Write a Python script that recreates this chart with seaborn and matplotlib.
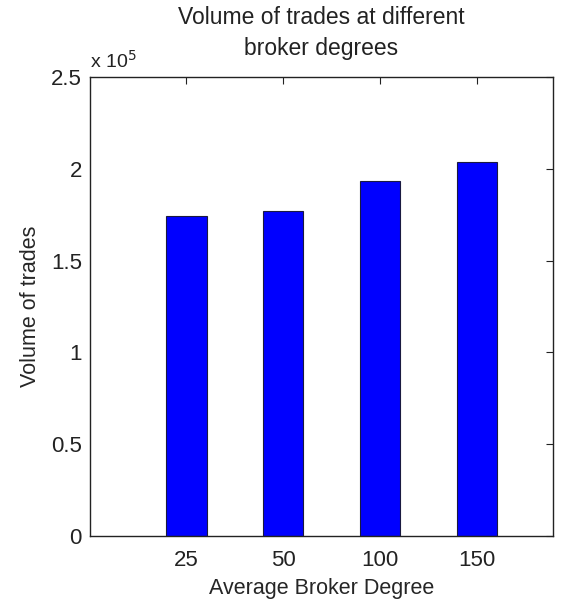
import matplotlib
matplotlib.use('Agg')
import matplotlib.pyplot as plt
import seaborn as sns
import pandas as pd

# values
degrees = ['25', '50', '100', '150']
volumes = [1.743e5, 1.772e5, 1.935e5, 2.037e5]

df = pd.DataFrame({'degree': degrees, 'volume': volumes})

sns.set_style('white')
plt.rcParams['font.family'] = ['Liberation Sans', 'DejaVu Sans']

fig = plt.figure(figsize=(5.74, 6.05), dpi=100)
ax = fig.add_axes([0.157, 0.114, 0.806, 0.759])

sns.barplot(data=df, x='degree', y='volume', color='#0000ff', saturation=1,
            width=0.42, edgecolor='#1a1a40', linewidth=0.8, ax=ax)

ax.set_xlim(-0.99, 3.78)
ax.set_ylim(0, 2.5e5)
ax.set_yticks([0, 0.5e5, 1e5, 1.5e5, 2e5, 2.5e5])
ax.set_yticklabels(['0', '0.5', '1', '1.5', '2', '2.5'])
ax.text(0, 1.012, r'x 10$^5$', transform=ax.transAxes, fontsize=14,
        ha='left', va='bottom', color='#222222')

ax.tick_params(axis='x', pad=10)
ax.tick_params(axis='y', pad=6)
ax.tick_params(direction='in', top=True, right=True, labelsize=16,
               length=5, width=0.8, colors='#222222')
for s in ax.spines.values():
    s.set_visible(True)
    s.set_color('#222222')
    s.set_linewidth(1.0)

ax.set_xlabel('Average Broker Degree', fontsize=15.5, labelpad=5)
ax.set_ylabel('Volume of trades', fontsize=15.5, labelpad=7)
ax.set_title('Volume of trades at different\nbroker degrees', fontsize=16.5,
             pad=16, linespacing=1.45, color='#222222')

fig.savefig('out.png', dpi=100)
